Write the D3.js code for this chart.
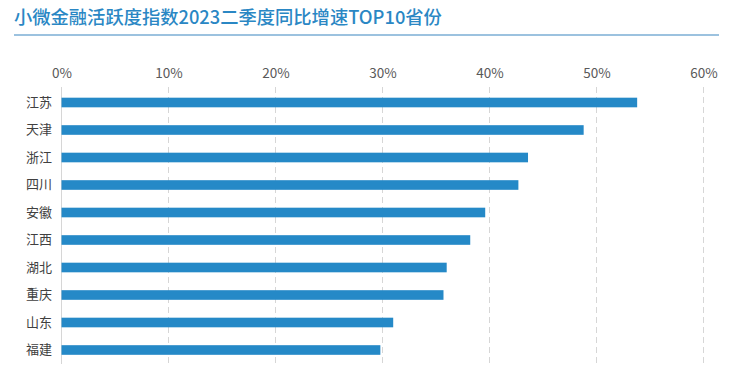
<!DOCTYPE html>
<html><head><meta charset="utf-8">
<script src="https://cdn.jsdelivr.net/npm/d3@7"></script>
<style>
html,body{margin:0;padding:0;background:#fff;}
svg{display:block;}
</style></head>
<body>
<svg id="chart" width="743" height="378"></svg>
<script>
const titleText = "小微金融活跃度指数2023二季度同比增速TOP10省份";
const provinces = ["江苏","天津","浙江","四川","安徽","江西","湖北","重庆","山东","福建"];
const growth = [53.8, 48.8, 43.6, 42.7, 39.6, 38.2, 36.0, 35.7, 31.0, 29.8];
const tickValues = [0, 10, 20, 30, 40, 50, 60];

const svg = d3.select("#chart");
const font = "'Noto Sans CJK SC','Noto Sans',sans-serif";

svg.append("text")
  .attr("x", 14).attr("y", 24)
  .attr("font-family", font).attr("font-size", 18.3).attr("font-weight", 500)
  .attr("fill", "#2a87c4")
  .text(titleText);
svg.append("line")
  .attr("x1", 14).attr("x2", 719).attr("y1", 35).attr("y2", 35)
  .attr("stroke", "#3a86c0").attr("stroke-width", 1.2);

const x = d3.scaleLinear().domain([0, 60]).range([61.5, 703.5]);
const y = d3.scaleBand().domain(provinces).range([88.75, 363.75]).paddingInner(0.65).paddingOuter(0.325);

// gridlines
svg.append("g").selectAll("line").data(tickValues).join("line")
  .attr("x1", d => x(d)).attr("x2", d => x(d))
  .attr("y1", 87).attr("y2", 364)
  .attr("stroke", "#d6d6d6").attr("stroke-width", 1)
  .attr("stroke-dasharray", d => d === 0 ? null : "6,4");

// top axis labels
const xAxis = d3.axisTop(x).tickValues(tickValues).tickFormat(d => d + "%").tickSize(0).tickPadding(0);
const gx = svg.append("g").attr("transform", "translate(0,78)").call(xAxis);
gx.select(".domain").remove();
gx.selectAll("text").attr("font-family", font).attr("font-size", 13.5).attr("fill", "#595959");

// bars
svg.append("g").selectAll("rect").data(provinces).join("rect")
  .attr("x", x(0))
  .attr("y", d => y(d))
  .attr("width", (d, i) => x(growth[i]) - x(0))
  .attr("height", y.bandwidth())
  .attr("fill", "#2589c7");

// category labels
const yAxis = d3.axisLeft(y).tickSize(0).tickPadding(0);
const gy = svg.append("g").attr("transform", "translate(52,0)").call(yAxis);
gy.select(".domain").remove();
gy.selectAll("text").attr("font-family", font).attr("font-size", 13).attr("fill", "#404040");
</script>
</body></html>
